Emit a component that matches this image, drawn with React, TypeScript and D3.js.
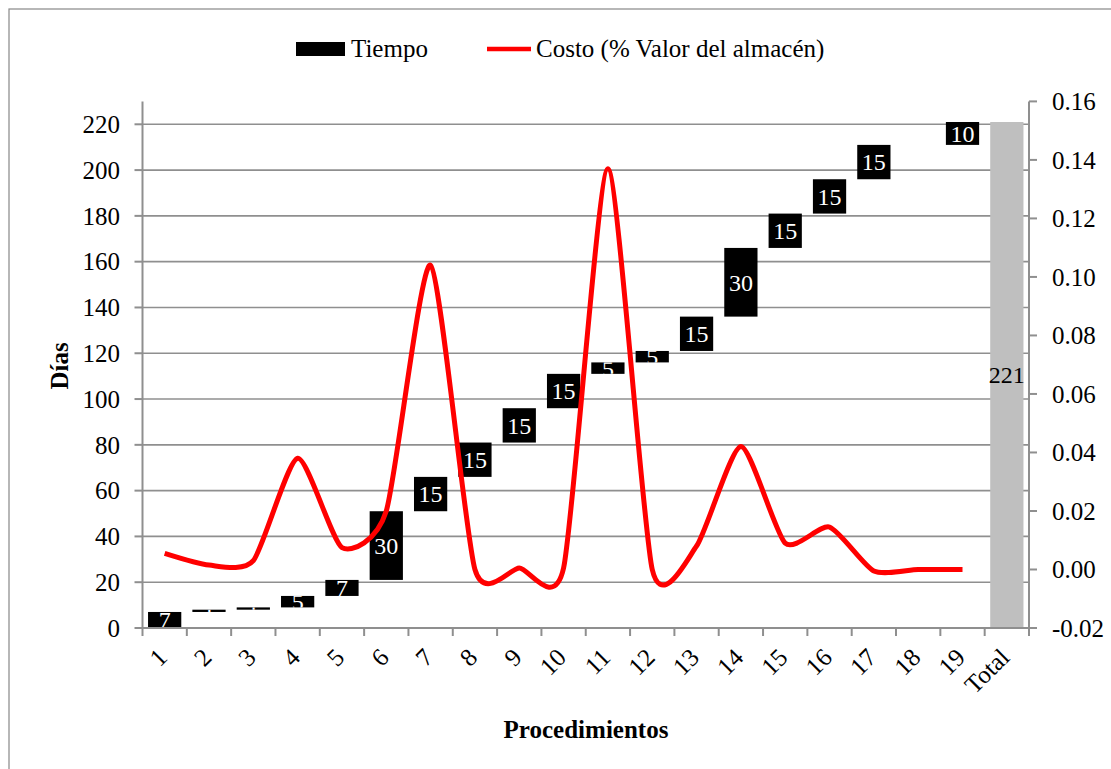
import React from 'react';
import * as d3 from 'd3';

// Waterfall: days per procedure, plus cost line on the right axis
const procedures = ['1', '2', '3', '4', '5', '6', '7', '8', '9', '10', '11', '12', '13', '14', '15', '16', '17', '18', '19'];
const tiempo = [7, 1, 1, 5, 7, 30, 15, 15, 15, 15, 5, 5, 15, 30, 15, 15, 15, 0, 10];
const totalLabel = 'Total';
const costo = [0.0055, 0.0015, 0.003, 0.038, 0.0075, 0.02, 0.104, 0.0, 0.0005, 0.0005, 0.137, 0.0, 0.008, 0.042, 0.009, 0.0145, -0.0005, 0.0, 0.0];
const leftTicks = [0, 20, 40, 60, 80, 100, 120, 140, 160, 180, 200, 220];
const rightTicks = [-0.02, 0, 0.02, 0.04, 0.06, 0.08, 0.1, 0.12, 0.14, 0.16];

const W = 1111;
const H = 769;
const plotL = 142.5;
const plotR = 1029;
const plotB = 628;
const plotT = 101.4;
const FONT = '"Liberation Serif", "Times New Roman", serif';
const GRID = '#8f8f8f';

export default function App() {
  const cats = [...procedures, totalLabel];
  const x = d3.scaleBand<string>().domain(cats).range([plotL, plotR]).paddingInner(0.25).paddingOuter(0.125);
  const yL = d3.scaleLinear().domain([0, 230]).range([plotB, plotT]);
  const yR = d3.scaleLinear().domain([-0.02, 0.16]).range([plotB, plotT]);

  // cumulative starts
  const starts: number[] = [];
  let acc = 0;
  tiempo.forEach((v) => {
    starts.push(acc);
    acc += v;
  });
  const total = acc;

  const step = x.step();
  const boundaries = d3.range(cats.length + 1).map((i) => plotL + i * step);

  const line = d3
    .line<number>()
    .x((_, i) => (x(procedures[i]) as number) + x.bandwidth() / 2)
    .y((d) => yR(d))
    .curve(d3.curveCardinal.tension(0.35));

  const bw = x.bandwidth();

  return (
    <svg width={W} height={H} style={{ position: 'absolute', left: 0, top: 0, background: '#fff' }} fontFamily={FONT}>
      <defs>
        {tiempo.map((v, i) => (
          <clipPath id={`bar-${i}`} key={i}>
            <rect x={x(procedures[i])} y={yL(starts[i] + v)} width={bw} height={yL(starts[i]) - yL(starts[i] + v)} />
          </clipPath>
        ))}
      </defs>

      {/* outer frame */}
      <rect x={9} y={9} width={W + 10} height={H + 10} fill="none" stroke="#888" strokeWidth={1.2} />

      {/* legend */}
      <rect x={296} y={42} width={49} height={14} fill="#000" />
      <text x={351} y={57} fontSize={25}>Tiempo</text>
      <line x1={487} x2={531} y1={49} y2={49} stroke="#ff0000" strokeWidth={4.5} />
      <text x={536} y={57} fontSize={25}>Costo (% Valor del almacén)</text>

      {/* gridlines */}
      {leftTicks.filter((t) => t > 0).map((t) => (
        <line key={t} x1={plotL} x2={plotR} y1={yL(t)} y2={yL(t)} stroke={GRID} strokeWidth={1.6} />
      ))}

      {/* bars */}
      {tiempo.map((v, i) => {
        const x0 = x(procedures[i]) as number;
        const yTop = yL(starts[i] + v);
        const yBot = yL(starts[i]);
        return (
          <g key={i}>
            <rect x={x0} y={yTop} width={bw} height={yBot - yTop} fill="#000" />
            <text
              x={x0 + bw / 2}
              y={(yTop + yBot) / 2}
              dy="0.35em"
              textAnchor="middle"
              fontSize={24}
              fill="#fff"
              clipPath={`url(#bar-${i})`}
            >
              {v}
            </text>
          </g>
        );
      })}
      <rect x={x(totalLabel)} y={yL(total)} width={bw} height={yL(0) - yL(total)} fill="#bfbfbf" />
      <text x={(x(totalLabel) as number) + bw / 2} y={yL(total / 2)} dy="0.35em" textAnchor="middle" fontSize={24} fill="#000">
        {total}
      </text>

      {/* cost line */}
      <path d={line(costo) || ''} fill="none" stroke="#ff0000" strokeWidth={5} strokeLinejoin="round" strokeLinecap="butt" />

      {/* left axis */}
      <line x1={plotL} x2={plotL} y1={plotT} y2={plotB} stroke={GRID} strokeWidth={2} />
      {leftTicks.map((t) => (
        <g key={t}>
          <line x1={plotL - 8} x2={plotL} y1={yL(t)} y2={yL(t)} stroke={GRID} strokeWidth={2} />
          <text x={120} y={yL(t)} dy="0.35em" textAnchor="end" fontSize={25}>{t}</text>
        </g>
      ))}

      {/* right axis */}
      <line x1={plotR} x2={plotR} y1={plotT} y2={plotB} stroke={GRID} strokeWidth={2} />
      {rightTicks.map((t) => (
        <g key={t}>
          <line x1={plotR} x2={plotR + 8} y1={yR(t)} y2={yR(t)} stroke={GRID} strokeWidth={2} />
          <text x={1052} y={yR(t)} dy="0.35em" fontSize={25}>{d3.format('.2f')(t).replace('−', '-')}</text>
        </g>
      ))}

      {/* bottom axis */}
      <line x1={plotL} x2={plotR} y1={plotB} y2={plotB} stroke={GRID} strokeWidth={2} />
      {boundaries.map((bx, i) => (
        <line key={i} x1={bx} x2={bx} y1={plotB} y2={plotB + 8} stroke={GRID} strokeWidth={2} />
      ))}
      {cats.map((c) => {
        const cx = (x(c) as number) + bw / 2 + 4;
        const cy = 659;
        return (
          <text key={c} x={cx} y={cy} textAnchor="end" fontSize={25} transform={`rotate(-45, ${cx}, ${cy})`}>
            {c}
          </text>
        );
      })}

      {/* axis titles */}
      <text x={0} y={0} transform="translate(68, 366) rotate(-90)" textAnchor="middle" fontSize={25} fontWeight="bold">
        Días
      </text>
      <text x={586} y={738} textAnchor="middle" fontSize={25} fontWeight="bold">
        Procedimientos
      </text>
    </svg>
  );
}
